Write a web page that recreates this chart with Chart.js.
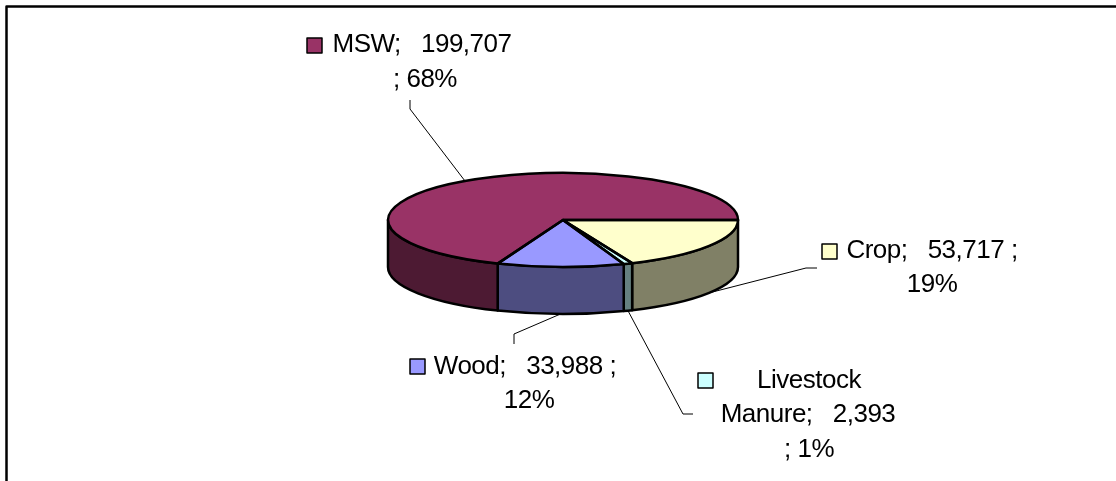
<!DOCTYPE html>
<html>
<head>
<meta charset="utf-8">
<style>
html, body { margin: 0; padding: 0; background: #fff; }
#wrap { position: relative; width: 1116px; height: 481px; }
</style>
<script src="https://cdn.jsdelivr.net/npm/chart.js@4"></script>
</head>
<body>
<div id="wrap"><canvas id="grafico" width="1116" height="481"></canvas></div>
<script>
// datos
const categorias = ['Crop', 'Livestock Manure', 'Wood', 'MSW'];
const toneladas = [53717, 2393, 33988, 199707];
const porcentajes = [19, 1, 12, 68];

const coloresTapa = ['#FFFFCC', '#CCFFFF', '#9999FF', '#993366'];
const coloresLado = ['#808066', '#668080', '#4D4D80', '#4D1A33'];

// aplastado de la elipse y alto de la pared
const aplastado = 47 / 175;
const alto = 47;
const fuente = '26px "Liberation Sans", Arial, sans-serif';

// etiquetas: lineas de texto con su centro y base, cuadrito y codo de la guia
const etiquetas = [
    { lineas: [[932, 258], [932, 292]], cuadro: [822, 244], guia: [[817, 268], [806, 268]], pared: true },
    { lineas: [[809, 388], [808, 422], [809, 457]], cuadro: [698, 373], guia: [[693, 414], [683, 414]], pared: true },
    { lineas: [[525, 374], [529, 408]], cuadro: [410, 359], guia: [[514, 344], [514, 334]], pared: true },
    { lineas: [[422, 52], [425, 87]], cuadro: [307, 38], guia: [[410, 100], [410, 109]], pared: false }
];

function textoEtiqueta(i) {
    const valor = toneladas[i].toLocaleString('en-US');
    const nombre = categorias[i].split(' ');
    const pct = porcentajes[i] + '%';
    if (nombre.length > 1) return [nombre[0], `${nombre[1]};   ${valor}`, `; ${pct}`];
    if (categorias[i] === 'MSW') return [`${nombre[0]};   ${valor}`, `; ${pct}`];
    return [`${nombre[0]};   ${valor} ;`, pct];
}

const pastel3d = {
    id: 'pastel3d',
    beforeDatasetsDraw(chart) {
        const ctx = chart.ctx;
        const arcos = chart.getDatasetMeta(0).data;
        ctx.save();
        ctx.lineWidth = 2.5;
        ctx.strokeStyle = '#000';
        ctx.lineJoin = 'round';
        // pared frontal, solo la parte de cada sector entre 0 y 180 grados
        arcos.forEach((arco, i) => {
            const desde = Math.max(arco.startAngle, 0);
            const hasta = Math.min(arco.endAngle, Math.PI);
            if (desde >= hasta) return;
            const r = arco.outerRadius;
            ctx.beginPath();
            ctx.ellipse(arco.x, arco.y, r, r * aplastado, 0, desde, hasta);
            ctx.ellipse(arco.x, arco.y + alto, r, r * aplastado, 0, hasta, desde, true);
            ctx.closePath();
            ctx.fillStyle = coloresLado[i];
            ctx.fill();
            ctx.stroke();
        });
        ctx.restore();
        // la tapa la dibuja Chart.js, aplastada
        const a = arcos[0];
        ctx.save();
        ctx.translate(a.x, a.y);
        ctx.scale(1, aplastado);
        ctx.translate(-a.x, -a.y);
    },
    afterDatasetsDraw(chart) {
        const ctx = chart.ctx;
        ctx.restore();
        const arcos = chart.getDatasetMeta(0).data;
        ctx.save();
        // contorno de la tapa, con grosor parejo
        ctx.lineWidth = 2.5;
        ctx.strokeStyle = '#000';
        ctx.lineJoin = 'round';
        arcos.forEach(arco => {
            const r = arco.outerRadius;
            ctx.beginPath();
            ctx.moveTo(arco.x, arco.y);
            ctx.ellipse(arco.x, arco.y, r, r * aplastado, 0, arco.startAngle, arco.endAngle);
            ctx.closePath();
            ctx.stroke();
        });

        // guias y etiquetas
        ctx.font = fuente;
        ctx.letterSpacing = '-0.5px';
        ctx.textAlign = 'center';
        ctx.textBaseline = 'alphabetic';
        arcos.forEach((arco, i) => {
            const et = etiquetas[i];
            const medio = (arco.startAngle + arco.endAngle) / 2;
            const r = arco.outerRadius;
            const px = arco.x + r * Math.cos(medio);
            const py = arco.y + r * aplastado * Math.sin(medio) + (et.pared ? alto : 0);

            ctx.lineWidth = 1;
            ctx.strokeStyle = '#000';
            ctx.beginPath();
            ctx.moveTo(et.guia[0][0], et.guia[0][1]);
            ctx.lineTo(et.guia[1][0], et.guia[1][1]);
            ctx.lineTo(px, py);
            ctx.stroke();

            ctx.lineWidth = 1.5;
            ctx.fillStyle = coloresTapa[i];
            ctx.fillRect(et.cuadro[0], et.cuadro[1], 15, 15);
            ctx.strokeRect(et.cuadro[0], et.cuadro[1], 15, 15);

            ctx.fillStyle = '#000';
            textoEtiqueta(i).forEach((linea, k) => {
                ctx.fillText(linea, et.lineas[k][0], et.lineas[k][1]);
            });
        });

        // marco exterior, sin lado derecho ni inferior
        ctx.lineWidth = 2.5;
        ctx.strokeStyle = '#000';
        ctx.beginPath();
        ctx.moveTo(6.5, 481);
        ctx.lineTo(6.5, 6.5);
        ctx.lineTo(1116, 6.5);
        ctx.stroke();
        ctx.restore();
    }
};

new Chart(document.getElementById('grafico'), {
    type: 'pie',
    data: {
        labels: categorias,
        datasets: [{
            data: toneladas,
            backgroundColor: coloresTapa,
            borderWidth: 0,
            clip: false
        }]
    },
    options: {
        responsive: false,
        animation: false,
        rotation: 90,
        layout: { padding: { left: 213, right: 203, top: 45, bottom: 86 } },
        plugins: { legend: { display: false }, tooltip: { enabled: false } }
    },
    plugins: [pastel3d]
});
</script>
</body>
</html>
